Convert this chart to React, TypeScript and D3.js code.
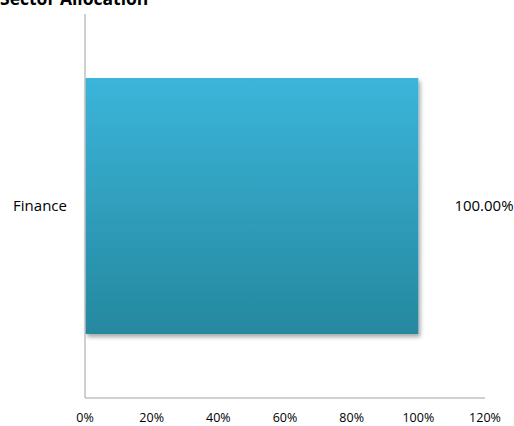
import React from "react";
import * as d3 from "d3";

const categories = ["Finance"];
const values = [1.0];
const valueLabels = ["100.00%"];
const xTicks = [0, 0.2, 0.4, 0.6, 0.8, 1.0, 1.2];
const title = "Sector Allocation";

export default function App() {
  const W = 514, H = 426;
  const x = d3.scaleLinear().domain([0, 1.2]).range([85, 485]);
  const y = d3.scaleBand().domain(categories).range([14, 398]).padding(0.2);
  const fmt = d3.format(".0%");
  return (
    <svg width={W} height={H} style={{ position: "absolute", left: 0, top: 0 }}>
      <defs>
        <linearGradient id="barGrad" x1="0" y1="0" x2="0" y2="1">
          <stop offset="0" stopColor="#3bb5da" />
          <stop offset="1" stopColor="#25889f" />
        </linearGradient>
        <filter id="sh" x="-10%" y="-10%" width="130%" height="130%">
          <feGaussianBlur in="SourceAlpha" stdDeviation="2" />
          <feOffset dx="2" dy="3" />
          <feComponentTransfer><feFuncA type="linear" slope="0.35" /></feComponentTransfer>
          <feMerge><feMergeNode /><feMergeNode in="SourceGraphic" /></feMerge>
        </filter>
      </defs>
      <text x={0} y={4.5} fontFamily="'Open Sans', sans-serif" fontWeight="bold" fontSize={17.5} fill="#000">{title}</text>
      {categories.map((c, i) => (
        <g key={c}>
          <rect x={x(0)} y={y(c)!} width={x(values[i]) - x(0)} height={y.bandwidth()} fill="url(#barGrad)" filter="url(#sh)" />
          <text x={40} y={y(c)! + y.bandwidth() / 2} dy="0.35em" textAnchor="middle" fontFamily="'Open Sans', sans-serif" fontSize={15} fill="#000">{c}</text>
          <text x={484} y={y(c)! + y.bandwidth() / 2} dy="0.35em" textAnchor="middle" fontFamily="'Open Sans', sans-serif" fontSize={15} fill="#000">{valueLabels[i]}</text>
        </g>
      ))}
      <line x1={85} x2={85} y1={14} y2={398} stroke="#c0c0c0" strokeWidth={1.5} />
      <line x1={85} x2={485} y1={398} y2={398} stroke="#c0c0c0" strokeWidth={1.5} />
      {xTicks.map((t) => (
        <text key={t} x={x(t)} y={418} dy="0.35em" textAnchor="middle" fontFamily="'Open Sans', sans-serif" fontSize={12.5} fill="#000">{fmt(t)}</text>
      ))}
    </svg>
  );
}
